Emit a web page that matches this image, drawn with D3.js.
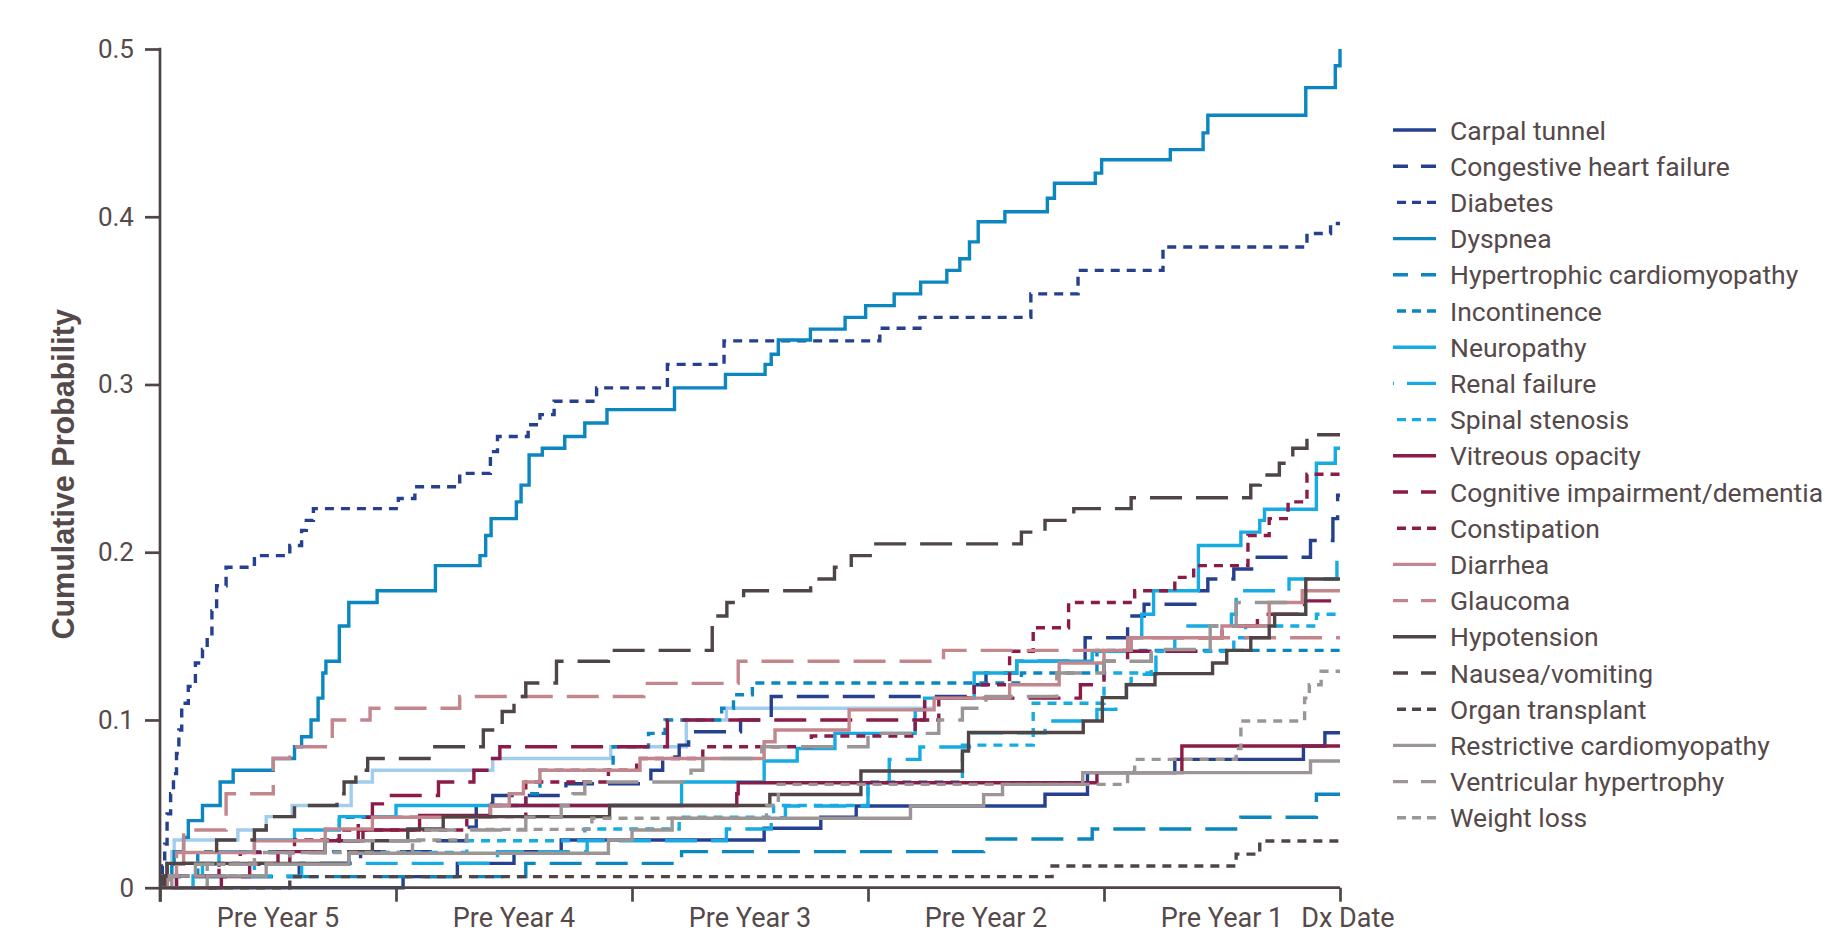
<!DOCTYPE html>
<html>
<head>
<meta charset="utf-8">
<script src="https://cdn.jsdelivr.net/npm/d3@7"></script>
<style>
  body { margin: 0; background: #fff; }
  svg { display: block; }
</style>
</head>
<body>
<svg id="chart" width="1837" height="935"></svg>
<script>
// ---- data: [years relative to diagnosis, cumulative probability], step-after ----
const conditions = [
  "Carpal tunnel", "Congestive heart failure", "Diabetes", "Dyspnea",
  "Hypertrophic cardiomyopathy", "Incontinence", "Neuropathy", "Renal failure",
  "Spinal stenosis", "Vitreous opacity", "Cognitive impairment/dementia",
  "Constipation", "Diarrhea", "Glaucoma", "Hypotension", "Nausea/vomiting",
  "Organ transplant", "Restrictive cardiomyopathy", "Ventricular hypertrophy", "Weight loss"
];

const xTickLabels = ["Pre Year 5", "Pre Year 4", "Pre Year 3", "Pre Year 2", "Pre Year 1"];
const endLabel = "Dx Date";
const yTicks = [0, 0.1, 0.2, 0.3, 0.4, 0.5];

const carpalTunnel = [[-5,0],[-3.97,0.0066],[-3.74,0.0145],[-3.5,0.0215],[-3.3,0.0284],[-2.44,0.0354],[-2.2,0.042],[-2.05,0.0487],[-1.25,0.0557],[-1.07,0.0686],[-0.7,0.0765],[-0.155,0.0845],[-0.064,0.0924],[0,0.0924]];
const congestiveHF = [[-5,0],[-4.98,0.0066],[-4.41,0.0145],[-4.15,0.0215],[-3.83,0.028],[-3.7,0.036],[-3.66,0.05],[-3.59,0.055],[-3.28,0.062],[-2.92,0.07],[-2.87,0.078],[-2.8,0.085],[-2.76,0.093],[-2.54,0.1],[-2.41,0.114],[-1.55,0.121],[-1.5,0.128],[-1.37,0.135],[-1.08,0.149],[-0.9,0.162],[-0.83,0.169],[-0.6,0.177],[-0.56,0.184],[-0.45,0.19],[-0.36,0.197],[-0.125,0.207],[-0.03,0.22],[-0.01,0.234],[0,0.234]];
const diabetes = [[-5,0],[-4.99,0.013],[-4.98,0.026],[-4.97,0.044],[-4.955,0.056],[-4.943,0.068],[-4.93,0.08],[-4.92,0.094],[-4.908,0.11],[-4.88,0.12],[-4.85,0.134],[-4.82,0.142],[-4.8,0.149],[-4.78,0.165],[-4.76,0.18],[-4.72,0.191],[-4.6,0.198],[-4.45,0.204],[-4.4,0.213],[-4.38,0.219],[-4.35,0.226],[-3.99,0.232],[-3.92,0.239],[-3.73,0.247],[-3.6,0.26],[-3.57,0.269],[-3.44,0.276],[-3.39,0.282],[-3.33,0.29],[-3.15,0.298],[-2.85,0.312],[-2.61,0.326],[-1.95,0.3335],[-1.78,0.34],[-1.31,0.354],[-1.11,0.368],[-0.75,0.382],[-0.14,0.39],[-0.04,0.396],[0,0.396]];
const dyspnea = [[-5,0],[-4.97,0.007],[-4.95,0.014],[-4.94,0.0215],[-4.9,0.03],[-4.88,0.04],[-4.82,0.049],[-4.745,0.063],[-4.69,0.07],[-4.52,0.077],[-4.43,0.084],[-4.4,0.09],[-4.36,0.1],[-4.33,0.113],[-4.31,0.128],[-4.297,0.135],[-4.24,0.156],[-4.2,0.17],[-4.08,0.177],[-3.833,0.192],[-3.644,0.198],[-3.62,0.21],[-3.597,0.22],[-3.49,0.23],[-3.47,0.24],[-3.436,0.258],[-3.38,0.262],[-3.285,0.269],[-3.2,0.277],[-3.106,0.285],[-2.82,0.298],[-2.604,0.306],[-2.436,0.312],[-2.41,0.318],[-2.38,0.3265],[-2.244,0.333],[-2.097,0.34],[-2.01,0.347],[-1.889,0.354],[-1.777,0.361],[-1.666,0.368],[-1.611,0.375],[-1.57,0.385],[-1.533,0.397],[-1.42,0.403],[-1.24,0.411],[-1.21,0.42],[-1.037,0.426],[-1.01,0.434],[-0.719,0.44],[-0.58,0.45],[-0.56,0.4605],[-0.145,0.477],[-0.02,0.49],[0,0.5]];
const hypertrophicCM = [[-5,0],[-4.97,0.0066],[-3.45,0.0145],[-2.79,0.0215],[-1.51,0.029],[-1.05,0.035],[-0.42,0.042],[-0.1,0.0557],[0,0.0557]];
const incontinence = [[-5,0],[-4.97,0.007],[-4.84,0.0215],[-4.24,0.042],[-3.6,0.049],[-3.45,0.056],[-3.39,0.07],[-3.08,0.084],[-2.93,0.092],[-2.86,0.1],[-2.62,0.107],[-2.57,0.115],[-2.49,0.122],[-1.35,0.128],[-1.03,0.1415],[0,0.1415]];
const neuropathy = [[-5,0],[-4.86,0.007],[-4.82,0.014],[-4.75,0.0215],[-4.6,0.0284],[-4.43,0.0344],[-4.24,0.0424],[-4.0,0.049],[-2.79,0.063],[-2.44,0.0755],[-2.3,0.083],[-2.14,0.092],[-1.8,0.106],[-1.76,0.113],[-1.55,0.128],[-1.37,0.135],[-1.05,0.141],[-0.885,0.149],[-0.84,0.163],[-0.79,0.177],[-0.6,0.204],[-0.42,0.212],[-0.34,0.219],[-0.32,0.2256],[-0.1,0.253],[-0.02,0.262],[0,0.262]];
const renalFailure = [[-5,0],[-4.97,0.007],[-4.4,0.0145],[-3.57,0.0215],[-3.19,0.028],[-2.6,0.035],[-2.41,0.0417],[-2.35,0.0487],[-2.0,0.0626],[-1.91,0.0765],[-1.78,0.0839],[-1.57,0.0924],[-1.25,0.0994],[-1.03,0.1063],[-0.95,0.1133],[-0.905,0.1212],[-0.885,0.1272],[-0.78,0.1411],[-0.7,0.149],[-0.66,0.156],[-0.46,0.163],[-0.44,0.177],[-0.216,0.184],[-0.013,0.199],[0,0.199]];
const spinalStenosis = [[-5,0],[-4.93,0.007],[-4.6,0.014],[-4.2,0.021],[-3.7,0.028],[-3.2,0.035],[-2.8,0.042],[-2.4,0.049],[-2.0,0.063],[-1.6,0.085],[-1.3,0.11],[-1.0,0.128],[-0.8,0.141],[-0.45,0.149],[-0.4,0.156],[-0.1,0.163],[0,0.163]];
const vitreousOpacity = [[-5,0],[-4.74,0.0066],[-4.62,0.0145],[-4.5,0.0215],[-4.3,0.028],[-4.14,0.0344],[-3.9,0.043],[-3.6,0.049],[-2.556,0.056],[-2.55,0.0626],[-1.03,0.0686],[-0.67,0.0845],[0,0.0845]];
const cognitive = [[-5,0],[-4.93,0.007],[-4.75,0.014],[-4.45,0.021],[-4.3,0.028],[-4.16,0.042],[-4.1,0.05],[-4.05,0.055],[-3.82,0.063],[-3.67,0.07],[-3.6,0.077],[-3.56,0.084],[-2.85,0.1],[-1.76,0.113],[-1.1,0.121],[-1.0,0.135],[-0.9,0.141],[-0.6,0.149],[-0.5,0.156],[-0.35,0.163],[-0.15,0.171],[0,0.171]];
const constipation = [[-5,0],[-4.96,0.007],[-4.75,0.0145],[-4.66,0.021],[-4.43,0.0284],[-4.24,0.0344],[-3.7,0.0424],[-3.45,0.063],[-3.1,0.07],[-2.98,0.077],[-2.7,0.084],[-2.24,0.0904],[-1.8,0.1],[-1.7,0.113],[-1.55,0.121],[-1.4,0.141],[-1.3,0.155],[-1.15,0.17],[-0.87,0.177],[-0.7,0.185],[-0.62,0.192],[-0.39,0.21],[-0.3,0.22],[-0.22,0.23],[-0.14,0.2465],[0,0.2465]];
const diarrhea = [[-5,0],[-4.97,0.007],[-4.93,0.014],[-4.9,0.021],[-4.6,0.028],[-4.3,0.035],[-4.1,0.042],[-3.6,0.049],[-3.52,0.056],[-3.46,0.063],[-3.39,0.07],[-2.966,0.077],[-2.44,0.087],[-2.394,0.094],[-2.08,0.106],[-1.72,0.113],[-1.4,0.121],[-1.19,0.134],[-1.0,0.1415],[-0.885,0.149],[-0.5,0.156],[-0.3,0.17],[-0.16,0.177],[0,0.177]];
const glaucoma = [[-5,0],[-4.97,0.007],[-4.93,0.021],[-4.9,0.0344],[-4.72,0.056],[-4.52,0.077],[-4.45,0.084],[-4.27,0.1],[-4.11,0.107],[-3.73,0.114],[-2.95,0.1218],[-2.55,0.135],[-1.68,0.1415],[-0.9,0.149],[0,0.149]];
const hypotension = [[-5,0],[-4.99,0.007],[-4.97,0.0145],[-4.2,0.0215],[-4.1,0.028],[-3.95,0.035],[-3.8,0.0424],[-3.095,0.049],[-2.416,0.0556],[-2.03,0.0696],[-1.6,0.0815],[-1.574,0.0925],[-1.088,0.0994],[-1.007,0.1133],[-0.905,0.121],[-0.784,0.1276],[-0.54,0.134],[-0.48,0.1415],[-0.378,0.149],[-0.3,0.156],[-0.277,0.163],[-0.145,0.184],[0,0.184]];
const nausea = [[-5,0],[-4.98,0.007],[-4.97,0.0145],[-4.76,0.0284],[-4.6,0.0344],[-4.55,0.0424],[-4.43,0.049],[-4.25,0.056],[-4.22,0.063],[-4.17,0.07],[-4.12,0.077],[-3.86,0.084],[-3.63,0.094],[-3.55,0.105],[-3.5,0.114],[-3.45,0.122],[-3.32,0.135],[-3.1,0.1415],[-2.66,0.162],[-2.598,0.17],[-2.527,0.177],[-2.243,0.184],[-2.142,0.191],[-2.071,0.198],[-1.98,0.205],[-1.35,0.212],[-1.25,0.219],[-1.128,0.226],[-0.885,0.2325],[-0.378,0.24],[-0.338,0.246],[-0.257,0.253],[-0.2,0.262],[-0.14,0.27],[0,0.27]];
const organTransplant = [[-5,0],[-4.45,0.0066],[-1.22,0.0129],[-0.44,0.02],[-0.34,0.0278],[0,0.0278]];
const restrictiveCM = [[-5,0],[-4.8,0.007],[-4.55,0.014],[-4.2,0.0205],[-3.1,0.0284],[-3.0,0.0344],[-2.83,0.0414],[-1.82,0.0487],[-1.51,0.0555],[-1.43,0.0616],[-1.09,0.0686],[-0.125,0.0755],[0,0.0755]];
const ventricularHyp = [[-5,0],[-4.95,0.007],[-4.85,0.014],[-4.6,0.021],[-4.3,0.028],[-3.9,0.0344],[-3.45,0.042],[-3.3,0.049],[-3.25,0.056],[-3.2,0.063],[-2.75,0.07],[-2.7,0.077],[-2.45,0.084],[-2.0,0.092],[-1.7,0.1],[-1.6,0.107],[-1.5,0.114],[-1.2,0.128],[-1.0,0.135],[-0.8,0.142],[-0.55,0.156],[-0.44,0.17],[-0.2,0.17]];
const weightLoss = [[-5,0],[-4.96,0.007],[-4.8,0.014],[-4.45,0.021],[-3.93,0.0284],[-3.7,0.0348],[-3.17,0.0414],[-2.43,0.049],[-2.38,0.0616],[-0.9,0.069],[-0.87,0.0765],[-0.44,0.083],[-0.42,0.0994],[-0.15,0.113],[-0.13,0.121],[-0.08,0.129],[0,0.129]];
// pale blue curve visible in the figure that has no legend entry
const unlabeledPale = [[-5,0],[-4.97,0.007],[-4.95,0.0215],[-4.94,0.0284],[-4.67,0.0344],[-4.55,0.0424],[-4.44,0.049],[-4.19,0.063],[-4.1,0.07],[-3.59,0.077],[-3.09,0.084],[-2.77,0.1],[-2.6,0.107],[-1.72,0.107]];

const seriesValues = [
  carpalTunnel, congestiveHF, diabetes, dyspnea, hypertrophicCM, incontinence,
  neuropathy, renalFailure, spinalStenosis, vitreousOpacity, cognitive, constipation,
  diarrhea, glaucoma, hypotension, nausea, organTransplant, restrictiveCM,
  ventricularHyp, weightLoss
];

// ---- styles ----
const C = {
  navy: "#24408f", teal: "#0b86bf", sky: "#16abe3", pale: "#a2cdec",
  maroon: "#8c1b47", rose: "#c3868c", dark: "#4f4446", gray: "#9c9595"
};
const lineColors = [C.navy, C.navy, C.navy, C.teal, C.teal, C.teal, C.sky, C.sky, C.sky,
  C.maroon, C.maroon, C.maroon, C.rose, C.rose, C.dark, C.dark, C.dark, C.gray, C.gray, C.gray];
const lineKinds = ["solid","dash","dot","solid","dash","dot","solid","dash","dot",
  "solid","dash","dot","solid","dash","solid","dash","dot","solid","dash","dot"];
const chartDash = { solid: null, dash: "32,14", dot: "9,7" };
const legendDash = { solid: null, dash: "15,13", dot: "9,6" };

const axisColor = "#4f4446";
const textColor = "#55494a";

const svg = d3.select("#chart");

const x = d3.scaleLinear().domain([-5, 0]).range([160, 1340]);
const y = d3.scaleLinear().domain([0, 0.5]).range([887.7, 49]);

const line = d3.line()
  .x(d => x(d[0]))
  .y(d => y(d[1]))
  .curve(d3.curveStepAfter);

// lines
const plot = svg.append("g");
plot.append("path")
  .attr("d", line(unlabeledPale))
  .attr("fill", "none")
  .attr("stroke", C.pale)
  .attr("stroke-width", 3.4);

seriesValues.forEach((vals, i) => {
  plot.append("path")
    .attr("d", line(vals))
    .attr("fill", "none")
    .attr("stroke", lineColors[i])
    .attr("stroke-width", 3.4)
    .attr("stroke-dasharray", chartDash[lineKinds[i]]);
});

// y axis
const yAxis = svg.append("g")
  .attr("transform", `translate(${x(-5)},0)`)
  .call(d3.axisLeft(y).tickValues(yTicks)
    .tickFormat(d => d === 0 ? "0" : d3.format(".1f")(d))
    .tickSize(15).tickPadding(11).tickSizeOuter(0));
yAxis.select(".domain").remove();
yAxis.selectAll("line").attr("stroke", axisColor).attr("stroke-width", 2.7);
yAxis.selectAll("text")
  .attr("fill", textColor)
  .style("font-family", "Roboto, sans-serif")
  .style("font-size", "26px");
svg.append("line")
  .attr("x1", x(-5)).attr("x2", x(-5))
  .attr("y1", y(0.5) - 1.3).attr("y2", y(0) + 14)
  .attr("stroke", axisColor).attr("stroke-width", 2.7);

// x axis
const xAxis = svg.append("g")
  .attr("transform", `translate(0,${y(0)})`)
  .call(d3.axisBottom(x).tickValues([-5, -4, -3, -2, -1, 0]).tickFormat("").tickSize(14).tickSizeOuter(0));
xAxis.select(".domain").remove();
xAxis.selectAll("line").attr("stroke", axisColor).attr("stroke-width", 2.7);
svg.append("line")
  .attr("x1", x(-5)).attr("x2", x(0))
  .attr("y1", y(0)).attr("y2", y(0))
  .attr("stroke", axisColor).attr("stroke-width", 2.7);

svg.append("g").selectAll("text")
  .data(xTickLabels)
  .join("text")
  .attr("x", (d, i) => x(-4.5 + i))
  .attr("y", 927)
  .attr("text-anchor", "middle")
  .attr("fill", textColor)
  .style("font-family", "Roboto, sans-serif")
  .style("font-size", "27px")
  .text(d => d);
svg.append("text")
  .attr("x", x(0) + 8)
  .attr("y", 927)
  .attr("text-anchor", "middle")
  .attr("fill", textColor)
  .style("font-family", "Roboto, sans-serif")
  .style("font-size", "27px")
  .text(endLabel);

// y title
svg.append("text")
  .attr("transform", `translate(66,${(y(0) + y(0.5)) / 2 + 6}) rotate(-90)`)
  .attr("text-anchor", "middle")
  .attr("dominant-baseline", "middle")
  .attr("fill", textColor)
  .style("font-family", "'Liberation Sans', Arial, sans-serif")
  .style("font-weight", "bold")
  .style("font-size", "30.5px")
  .text("Cumulative Probability");

// legend
const legend = svg.append("g");
const rows = legend.selectAll("g")
  .data(conditions)
  .join("g")
  .attr("transform", (d, i) => `translate(0,${130 + i * 36.2})`);
rows.append("line")
  .attr("x1", (d, i) => lineKinds[i] === "dot" ? 1397 : 1393)
  .attr("x2", 1436)
  .attr("stroke", (d, i) => lineColors[i])
  .attr("stroke-width", 3.4)
  .attr("stroke-dasharray", (d, i) => d === "Renal failure" ? "1,13,30,100" : legendDash[lineKinds[i]]);
rows.append("text")
  .attr("x", 1450)
  .attr("y", 0)
  .attr("dominant-baseline", "central")
  .attr("fill", textColor)
  .style("font-family", "Roboto, sans-serif")
  .style("font-size", "26.5px")
  .text(d => d);
</script>
</body>
</html>
